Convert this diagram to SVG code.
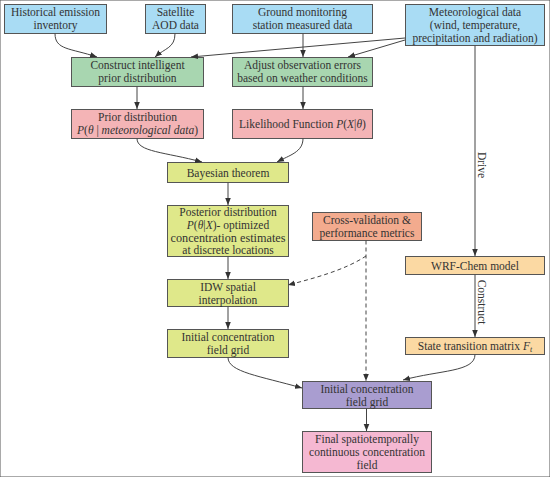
<svg xmlns="http://www.w3.org/2000/svg" width="550" height="477" viewBox="0 0 550 477">
<style>
text{font-family:"Liberation Serif","Times New Roman",serif;font-size:11.5px;fill:#333;text-anchor:middle}
.i{font-style:italic}
rect{stroke:#555;stroke-width:1}
.blue{fill:#a9dcf4}.green{fill:#a8d6b0}.pink{fill:#f4b4b6}.yel{fill:#dfe88a}
.cv{fill:#f3ab8e}.org{fill:#fbd9a3}.pur{fill:#a99dd0}.fin{fill:#f5b8d2}
.c path,.c line{fill:none;stroke:#444;stroke-width:1;marker-end:url(#a)}
.c .d{stroke-dasharray:4,3}
</style>
<defs>
<marker id="a" viewBox="0 0 10 10" refX="10" refY="5" markerWidth="7" markerHeight="7" markerUnits="userSpaceOnUse" orient="auto">
<path d="M0,1 L10,5 L0,9 z" fill="#333"/>
</marker>
</defs>
<rect width="550" height="477" fill="#fff" stroke="none"/>

<g id="n1"><rect class="blue" x="4.5" y="4.5" width="102" height="29"/><text x="55.5" y="16">Historical emission</text><text x="55.5" y="29">inventory</text></g>
<g id="n2"><rect class="blue" x="145.5" y="4.5" width="60" height="29"/><text x="175.5" y="16">Satellite</text><text x="175.5" y="29">AOD data</text></g>
<g id="n3"><rect class="blue" x="232.5" y="4.5" width="140" height="29"/><text x="302.5" y="16">Ground monitoring</text><text x="302.5" y="29">station measured data</text></g>
<g id="n4"><rect class="blue" x="405.5" y="4.5" width="139" height="41"/><text x="475" y="15.5">Meteorological data</text><text x="475" y="28.5">(wind, temperature,</text><text x="475" y="41.5">precipitation and radiation)</text></g>
<g id="n5"><rect class="green" x="71.5" y="57.5" width="132" height="29"/><text x="137.5" y="69">Construct intelligent</text><text x="137.5" y="82">prior distribution</text></g>
<g id="n6"><rect class="green" x="232.5" y="57.5" width="140" height="29"/><text x="302.5" y="69">Adjust observation errors</text><text x="302.5" y="82">based on weather conditions</text></g>
<g id="n7"><rect class="pink" x="71.5" y="109.5" width="132" height="29"/><text x="137.5" y="121">Prior distribution</text><text x="137.5" y="134"><tspan class="i">P</tspan>(<tspan class="i">θ</tspan> | <tspan class="i">meteorological data</tspan>)</text></g>
<g id="n8"><rect class="pink" x="232.5" y="109.5" width="140" height="29"/><text x="302.5" y="127.5">Likelihood Function <tspan class="i">P</tspan>(<tspan class="i">X</tspan>|<tspan class="i">θ</tspan>)</text></g>
<g id="n9"><rect class="yel" x="167.5" y="162.5" width="121" height="20"/><text x="228" y="176.5">Bayesian theorem</text></g>
<g id="n10"><rect class="yel" x="167.5" y="205.5" width="121" height="51"/><text x="228" y="216">Posterior distribution</text><text x="228" y="228.8"><tspan class="i">P</tspan>(<tspan class="i">θ</tspan>|<tspan class="i">X</tspan>)- optimized</text><text x="228" y="241.6" textLength="115" lengthAdjust="spacingAndGlyphs">concentration estimates</text><text x="228" y="254.4">at discrete locations</text></g>
<g id="n11"><rect class="yel" x="167.5" y="279.5" width="121" height="27"/><text x="228" y="290.5">IDW spatial</text><text x="228" y="303.5">interpolation</text></g>
<g id="n12"><rect class="yel" x="167.5" y="329.5" width="121" height="28"/><text x="228" y="341">Initial concentration</text><text x="228" y="354">field grid</text></g>
<g id="n13"><rect class="cv" x="312.5" y="212.5" width="109" height="28"/><text x="367" y="224">Cross-validation &amp;</text><text x="367" y="237">performance metrics</text></g>
<g id="n14"><rect class="org" x="405.5" y="256.5" width="139" height="18"/><text x="475" y="269.5">WRF-Chem model</text></g>
<g id="n15"><rect class="org" x="405.5" y="337.5" width="139" height="17"/><text x="475" y="350">State transition matrix <tspan class="i">F</tspan><tspan class="i" font-size="8" dy="2">t</tspan></text></g>
<g id="n16"><rect class="pur" x="302.5" y="381.5" width="129" height="27"/><text x="367" y="393">Initial concentration</text><text x="367" y="406">field grid</text></g>
<g id="n17"><rect class="fin" x="302.5" y="431.5" width="129" height="41"/><text x="367" y="443">Final spatiotemporally</text><text x="367" y="456">continuous concentration</text><text x="367" y="469">field</text></g>

<g id="connectors" class="c">
<path d="M55,33.5 C55,50 70,48 97,57"/>
<path d="M175,33.5 C175,48 165,48 155,57"/>
<path d="M405,38 L191,57"/>
<path d="M405,40 L348,57"/>
<line x1="303" y1="33.5" x2="303" y2="57"/>
<line x1="137" y1="86.5" x2="137" y2="109"/>
<line x1="303" y1="86.5" x2="303" y2="109"/>
<path d="M137,138.5 C137,152 165,152 202,162"/>
<path d="M303,138.5 C303,152 290,155 277,162"/>
<line x1="228" y1="182.5" x2="228" y2="205"/>
<line x1="228" y1="256.5" x2="228" y2="279"/>
<line x1="228" y1="306.5" x2="228" y2="329"/>
<path d="M228,357.5 C228,372 260,376 302,388"/>
<line x1="366.5" y1="408.5" x2="366.5" y2="431"/>
<line x1="475" y1="45.5" x2="475" y2="256"/>
<line x1="475" y1="274.5" x2="475" y2="337"/>
<path d="M475,354.5 C475,372 440,370 403,380"/>
<path class="d" d="M366,256 C345,270 315,278 288,285"/>
<line class="d" x1="366" y1="240.5" x2="366" y2="381"/>
</g>
<text transform="translate(478,165) rotate(90)">Drive</text>
<text transform="translate(478,302) rotate(90)">Construct</text>
</svg>
